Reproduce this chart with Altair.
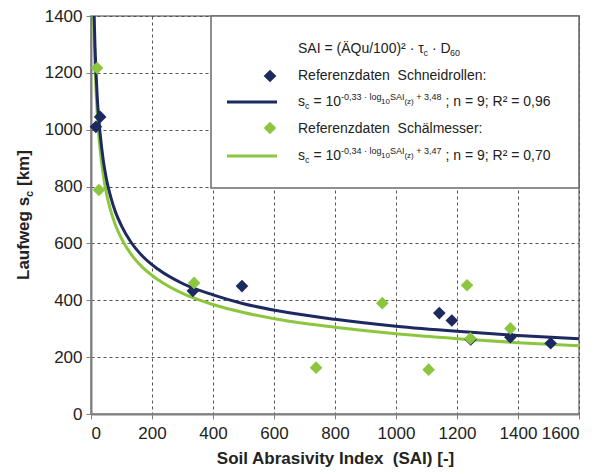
import altair as alt
import pandas as pd

# ---------------- data ----------------
sai_rollen = [16, 30, 334, 495, 1142, 1183, 1245, 1375, 1507]
s_rollen = [1010, 1045, 433, 450, 355, 329, 262, 270, 249]

sai_messer = [20, 26, 338, 738, 955, 1107, 1233, 1244, 1375]
s_messer = [1217, 788, 461, 163, 390, 156, 453, 266, 301]

curve_sai = [8, 10, 13, 16, 20, 25, 30, 40, 50, 65, 80, 100, 130, 170, 220,
             300, 400, 500, 650, 800, 1000, 1200, 1400, 1600]
curve_rollen = [1520, 1413, 1295, 1210, 1124, 1044, 985, 894, 830, 762, 711, 662,
                606, 554, 509, 459, 419, 388, 356, 333, 309, 291, 276, 265]
curve_messer = [1455, 1349, 1234, 1150, 1066, 988, 930, 842, 779, 714, 665, 617,
                564, 515, 472, 424, 385, 357, 326, 305, 282, 265, 251, 240]

x_ticks = [0, 200, 400, 600, 800, 1000, 1200, 1400, 1600]
y_ticks = [0, 200, 400, 600, 800, 1000, 1200, 1400]

DARK = "#1c2a5f"
GREEN = "#8cc63f"
FONT = "Liberation Sans"
TXT = "#222222"

pts_r = pd.DataFrame({"sai": sai_rollen, "s": s_rollen})
pts_m = pd.DataFrame({"sai": sai_messer, "s": s_messer})
cur_r = pd.DataFrame({"sai": curve_sai, "s": curve_rollen})
cur_m = pd.DataFrame({"sai": curve_sai, "s": curve_messer})
one = pd.DataFrame({"k": [0]})

x_enc = alt.X("sai:Q", scale=alt.Scale(domain=[0, 1600], nice=False),
              axis=alt.Axis(values=x_ticks, title="Soil Abrasivity Index\u00a0 (SAI) [-]",
                            format="d", labelPadding=6, titlePadding=9))
y_enc = alt.Y("s:Q", scale=alt.Scale(domain=[0, 1400], nice=False),
              axis=alt.Axis(values=y_ticks, title="", format="d"))

line_r = alt.Chart(cur_r).mark_line(color=DARK, strokeWidth=3, clip=True,
                                    interpolate="monotone").encode(x=x_enc, y=y_enc)
line_m = alt.Chart(cur_m).mark_line(color=GREEN, strokeWidth=3, clip=True,
                                    interpolate="monotone").encode(x=x_enc, y=y_enc)
pt_r = alt.Chart(pts_r).mark_point(shape="diamond", filled=True, size=160, opacity=1,
                                   color=DARK).encode(x=x_enc, y=y_enc)
pt_m = alt.Chart(pts_m).mark_point(shape="diamond", filled=True, size=160, opacity=1,
                                   color=GREEN).encode(x=x_enc, y=y_enc)

# ---------------- legend box ----------------
box = alt.Chart(one).mark_rect(fill="white", stroke="#6a6a6a", strokeWidth=1.5).encode(
    x=alt.value(120), x2=alt.value(488), y=alt.value(0), y2=alt.value(172))

W = {" ": 278, "\u00a0": 278, "(": 333, ")": 333, "+": 584, ",": 278, "-": 333,
     ".": 278, "/": 278, ":": 278, ";": 278, "=": 584, "A": 667, "D": 722, "I": 278,
     "Q": 778, "R": 722, "S": 667, "\u00c4": 667, "a": 556, "c": 500, "d": 556,
     "e": 556, "g": 556, "h": 556, "i": 222, "k": 500, "l": 222, "m": 833, "n": 556,
     "o": 556, "r": 333, "s": 500, "t": 278, "u": 556, "z": 500, "\u00b2": 333,
     "\u00b7": 278, "\u03c4": 440, "\u00e4": 556, "f": 278, "[": 278, "]": 278}


def tw(s, fs):
    return sum(W.get(ch, 556) for ch in s) / 1000.0 * fs


def text_run(segments, x0, base, weight="normal"):
    layers = []
    x = x0
    for txt, fs, dy in segments:
        stripped = txt.lstrip(" ")
        lead = tw(txt[:len(txt) - len(stripped)], fs)
        t = stripped.replace(" ", "\u00a0")
        layers.append(alt.Chart(one).mark_text(
            text=t, align="left", baseline="alphabetic", font=FONT, fontSize=fs,
            fontWeight=weight, color=TXT).encode(x=alt.value(x + lead),
                                                 y=alt.value(base + dy)))
        x += tw(txt, fs)
    return layers


TX = 207
leg = []
leg += text_run([("SAI = (\u00c4Qu/100)\u00b2 \u00b7 \u03c4", 14, 0), ("c", 9, 3),
                 (" \u00b7 D", 14, 0), ("60", 9, 3)], TX, 37)
leg += text_run([("Referenzdaten  Schneidrollen:", 14, 0)], TX, 64)
leg += text_run([("s", 14, 0), ("c", 9, 3), (" = 10", 14, 0), ("-0,33 \u00b7 log", 9, -6),
                 ("10", 8, -2), ("SAI", 9, -6), ("(z)", 8, -2), (" + 3,48", 9, -6),
                 (" ; n = 9; R\u00b2 = 0,96", 14, 0)], TX, 90)
leg += text_run([("Referenzdaten  Sch\u00e4lmesser:", 14, 0)], TX, 117)
leg += text_run([("s", 14, 0), ("c", 9, 3), (" = 10", 14, 0), ("-0,34 \u00b7 log", 9, -6),
                 ("10", 8, -2), ("SAI", 9, -6), ("(z)", 8, -2), (" + 3,47", 9, -6),
                 (" ; n = 9; R\u00b2 = 0,70", 14, 0)], TX, 144)

leg_sym = [
    alt.Chart(one).mark_point(shape="diamond", filled=True, size=160, opacity=1,
                              color=DARK).encode(x=alt.value(179), y=alt.value(60)),
    alt.Chart(one).mark_rule(color=DARK, strokeWidth=3).encode(
        x=alt.value(136), x2=alt.value(186), y=alt.value(86)),
    alt.Chart(one).mark_point(shape="diamond", filled=True, size=160, opacity=1,
                              color=GREEN).encode(x=alt.value(179), y=alt.value(112)),
    alt.Chart(one).mark_rule(color=GREEN, strokeWidth=3).encode(
        x=alt.value(136), x2=alt.value(186), y=alt.value(140)),
]

# ---------------- y axis title with subscript ----------------
ytitle = [
    alt.Chart(one).mark_text(text="Laufweg\u00a0s", angle=270, align="left",
                             baseline="alphabetic", font=FONT, fontSize=17,
                             fontWeight="bold", color=TXT).encode(
        x=alt.value(-62), y=alt.value(264)),
    alt.Chart(one).mark_text(text="c", angle=270, align="left", baseline="alphabetic",
                             font=FONT, fontSize=11, fontWeight="bold", color=TXT).encode(
        x=alt.value(-58), y=alt.value(264 - 83)),
    alt.Chart(one).mark_text(text="[km]", angle=270, align="left",
                             baseline="alphabetic", font=FONT, fontSize=17,
                             fontWeight="bold", color=TXT).encode(
        x=alt.value(-62), y=alt.value(264 - 89 - 5)),
]

chart = alt.layer(line_m, line_r, pt_r, pt_m, box, *leg_sym, *leg, *ytitle).properties(
    width=488, height=398,
    autosize=alt.AutoSizeParams(type="none"),
    padding={"left": 83, "top": 8, "right": 18, "bottom": 60},
).configure_view(stroke="#808080", strokeWidth=1.5).configure_axis(
    grid=True, gridColor="#555555", gridDash=[3, 3], gridWidth=1,
    domainColor="#808080", domainWidth=2, tickColor="#808080", tickSize=5,
    labelFont=FONT, labelFontSize=17, labelColor=TXT, labelPadding=4,
    titleFont=FONT, titleFontSize=17, titleFontWeight="bold", titleColor=TXT,
    titlePadding=10,
)

chart.save("out.html", embed_options={"renderer": "svg", "actions": False})
